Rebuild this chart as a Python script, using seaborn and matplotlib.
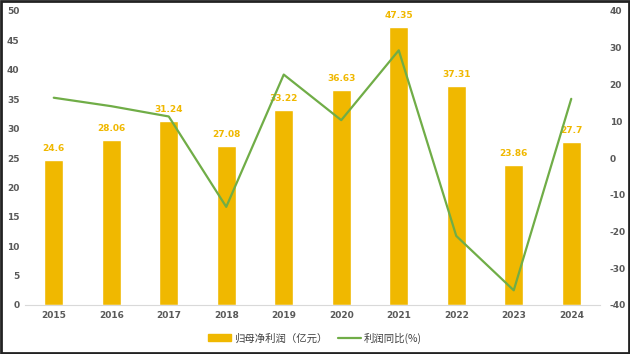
import matplotlib
matplotlib.use("Agg")
import numpy as np
import pandas as pd
import matplotlib.pyplot as plt
import seaborn as sns
from matplotlib.patches import Rectangle
from matplotlib.lines import Line2D

# 数据
years = ['2015', '2016', '2017', '2018', '2019', '2020', '2021', '2022', '2023', '2024']
profit = [24.6, 28.06, 31.24, 27.08, 33.22, 36.63, 47.35, 37.31, 23.86, 27.7]
yoy = [16.4, 14.1, 11.3, -13.3, 22.7, 10.3, 29.3, -21.2, -36.0, 16.1]

sns.set_theme(style="white")
plt.rcParams['font.family'] = ['Noto Sans CJK SC', 'DejaVu Sans']
plt.rcParams['axes.unicode_minus'] = False

bar_color = '#F0B800'
line_color = '#70AD47'
tick_color = '#595959'

df = pd.DataFrame({'年份': years, '归母净利润': profit, '利润同比': yoy})

fig, ax = plt.subplots(figsize=(6.3, 3.54), dpi=100)
fig.subplots_adjust(left=25 / 630, right=600 / 630, top=1 - 11 / 354, bottom=1 - 305 / 354)

sns.barplot(data=df, x='年份', y='归母净利润', color=bar_color, width=0.33,
            saturation=1, ax=ax)
for i, v in enumerate(profit):
    ax.annotate(f'{v:g}', (i, v), xytext=(0, 5), textcoords='offset points',
                ha='center', va='bottom', fontsize=6.5, fontweight='bold',
                color=bar_color, family='DejaVu Sans')

ax.set_ylim(0, 50)
ax.set_yticks(range(0, 51, 5))
ax.set_xlim(-0.5, len(years) - 0.5)
ax.set_xlabel('')
ax.set_ylabel('')

ax2 = ax.twinx()
sns.lineplot(x=np.arange(len(years)), y=yoy, color=line_color, linewidth=1.6, ax=ax2)
ax2.set_ylim(-40, 40)
ax2.set_yticks(range(-40, 41, 10))

for a in (ax, ax2):
    for s in a.spines.values():
        s.set_visible(False)
    a.tick_params(length=0, labelsize=6.5, colors=tick_color, pad=4)
    for lab in a.get_xticklabels() + a.get_yticklabels():
        lab.set_fontweight('bold')
        lab.set_family('DejaVu Sans')
ax.spines['bottom'].set_visible(True)
ax.spines['bottom'].set_color('#D9D9D9')
ax.spines['bottom'].set_linewidth(0.8)
ax.tick_params(axis='y', pad=4)
ax2.tick_params(axis='y', pad=7)

handles = [Rectangle((0, 0), 1, 1, color=bar_color),
           Line2D([0], [0], color=line_color, linewidth=1.6)]
fig.legend(handles, ['归母净利润（亿元）', '利润同比(%)'], loc='center',
           bbox_to_anchor=(0.5, 16 / 354), ncol=2, frameon=False, fontsize=7.5,
           handlelength=2.2, handleheight=0.7, columnspacing=1.0, handletextpad=0.3,
           labelcolor='#404040')

fig.patches.append(Rectangle((0.002, 0.003), 0.996, 0.994, transform=fig.transFigure,
                             fill=False, edgecolor='#222222', linewidth=2))

fig.savefig('out.png', dpi=100)
